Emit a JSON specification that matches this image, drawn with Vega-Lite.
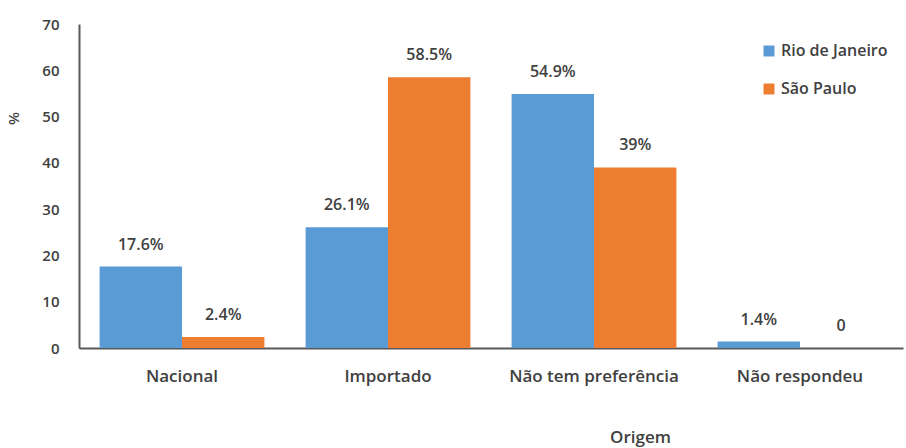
{
  "$schema": "https://vega.github.io/schema/vega-lite/v6.json",
  "width": 824,
  "height": 324,
  "autosize": {"type": "none"},
  "padding": {"left": 79, "top": 24, "right": 3, "bottom": 100},
  "background": "white",
  "config": {
    "view": {"stroke": null},
    "font": "Open Sans",
    "axis": {"labelFont": "Open Sans", "titleFont": "Open Sans", "labelColor": "#404040", "titleColor": "#404040", "grid": false, "labelFontWeight": 600, "titleFontWeight": 600}
  },
  "data": {
    "values": [
      {"origem": "Nacional", "cidade": "Rio de Janeiro", "valor": 17.6, "rotulo": "17.6%"},
      {"origem": "Nacional", "cidade": "São Paulo", "valor": 2.4, "rotulo": "2.4%"},
      {"origem": "Importado", "cidade": "Rio de Janeiro", "valor": 26.1, "rotulo": "26.1%"},
      {"origem": "Importado", "cidade": "São Paulo", "valor": 58.5, "rotulo": "58.5%"},
      {"origem": "Não tem preferência", "cidade": "Rio de Janeiro", "valor": 54.9, "rotulo": "54.9%"},
      {"origem": "Não tem preferência", "cidade": "São Paulo", "valor": 39, "rotulo": "39%"},
      {"origem": "Não respondeu", "cidade": "Rio de Janeiro", "valor": 1.4, "rotulo": "1.4%"},
      {"origem": "Não respondeu", "cidade": "São Paulo", "valor": 0, "rotulo": "0"}
    ]
  },
  "encoding": {
    "x": {
      "field": "origem",
      "type": "nominal",
      "sort": ["Nacional", "Importado", "Não tem preferência", "Não respondeu"],
      "scale": {"paddingInner": 0.2, "paddingOuter": 0.1},
      "axis": {
        "title": "Origem",
        "labelAngle": 0,
        "labelFontSize": 17,
        "labelPadding": 20,
        "ticks": false,
        "domainColor": "#595959",
        "domainWidth": 2,
        "titleFontSize": 17,
        "titleBaseline": "middle",
        "titleX": 561,
        "titleY": 89
      }
    },
    "xOffset": {"field": "cidade", "type": "nominal", "sort": ["Rio de Janeiro", "São Paulo"]},
    "y": {
      "field": "valor",
      "type": "quantitative",
      "scale": {"domain": [0, 70]},
      "axis": {
        "title": "%",
        "values": [0, 10, 20, 30, 40, 50, 60, 70],
        "ticks": false,
        "labelPadding": 20,
        "labelFontSize": 15,
        "domainColor": "#595959",
        "domainWidth": 2,
        "titleFontSize": 15,
        "titleAngle": -90,
        "titleX": -58,
        "titleY": 94
      }
    }
  },
  "layer": [
    {
      "mark": {"type": "bar"},
      "encoding": {
        "color": {
          "field": "cidade",
          "type": "nominal",
          "sort": ["Rio de Janeiro", "São Paulo"],
          "scale": {"domain": ["Rio de Janeiro", "São Paulo"], "range": ["#5B9BD5", "#ED7D31"]},
          "legend": {
            "title": null,
            "orient": "none",
            "legendX": 682,
            "legendY": 19,
            "symbolType": "square",
            "symbolSize": 120,
            "symbolStrokeWidth": 0,
            "labelFontSize": 16,
            "labelFontWeight": 600,
            "labelColor": "#404040",
            "labelFont": "Open Sans",
            "rowPadding": 22,
            "labelOffset": 4
          }
        }
      }
    },
    {
      "mark": {"type": "text", "baseline": "middle", "dy": -22, "fontSize": 16, "fontWeight": 600, "color": "#404040"},
      "encoding": {"text": {"field": "rotulo"}}
    }
  ]
}
